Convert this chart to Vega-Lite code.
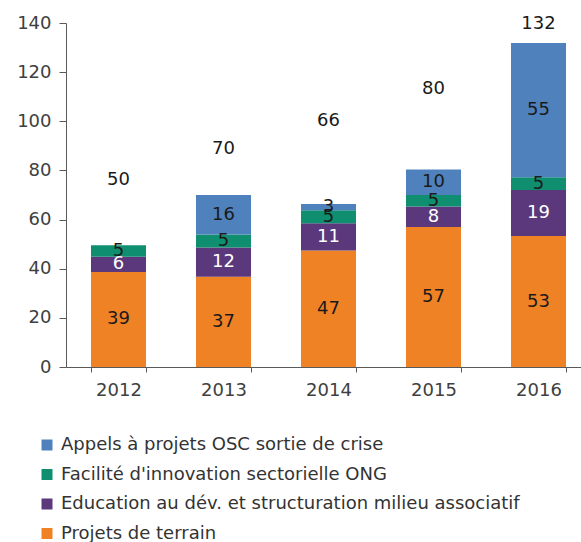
{
  "$schema": "https://vega.github.io/schema/vega-lite/v6.json",
  "autosize": "none",
  "width": 515,
  "height": 344,
  "padding": {"left": 66, "top": 23, "right": 0, "bottom": 175},
  "background": "white",
  "config": {"view": {"stroke": null}, "font": "DejaVu Sans"},
  "layer": [
    {
      "data": {
        "values": [
          {"year": "2012", "serie": "Projets de terrain", "value": 38.7},
          {"year": "2012", "serie": "Education au dév. et structuration milieu associatif", "value": 6.2},
          {"year": "2012", "serie": "Facilité d'innovation sectorielle ONG", "value": 4.7},
          {"year": "2013", "serie": "Projets de terrain", "value": 36.7},
          {"year": "2013", "serie": "Education au dév. et structuration milieu associatif", "value": 11.9},
          {"year": "2013", "serie": "Facilité d'innovation sectorielle ONG", "value": 5.3},
          {"year": "2013", "serie": "Appels à projets OSC sortie de crise", "value": 16.1},
          {"year": "2014", "serie": "Projets de terrain", "value": 47.4},
          {"year": "2014", "serie": "Education au dév. et structuration milieu associatif", "value": 11.1},
          {"year": "2014", "serie": "Facilité d'innovation sectorielle ONG", "value": 5.3},
          {"year": "2014", "serie": "Appels à projets OSC sortie de crise", "value": 2.5},
          {"year": "2015", "serie": "Projets de terrain", "value": 57.0},
          {"year": "2015", "serie": "Education au dév. et structuration milieu associatif", "value": 8.3},
          {"year": "2015", "serie": "Facilité d'innovation sectorielle ONG", "value": 4.7},
          {"year": "2015", "serie": "Appels à projets OSC sortie de crise", "value": 10.4},
          {"year": "2016", "serie": "Projets de terrain", "value": 53.3},
          {"year": "2016", "serie": "Education au dév. et structuration milieu associatif", "value": 18.7},
          {"year": "2016", "serie": "Facilité d'innovation sectorielle ONG", "value": 5.2},
          {"year": "2016", "serie": "Appels à projets OSC sortie de crise", "value": 54.7}
        ]
      },
      "transform": [
        {"calculate": "indexof([\"Projets de terrain\", \"Education au dév. et structuration milieu associatif\", \"Facilité d'innovation sectorielle ONG\", \"Appels à projets OSC sortie de crise\"], datum.serie)", "as": "rank"},
        {"stack": "value", "groupby": ["year"], "sort": [{"field": "rank", "order": "ascending"}], "as": ["v0", "v1"]},
        {"calculate": "(datum.v0 + datum.v1) / 2", "as": "mid"}
      ],
      "layer": [
        {
          "mark": {"type": "bar"},
          "encoding": {
            "x": {
              "field": "year", "type": "ordinal",
              "scale": {"range": [0, 525], "paddingInner": 0.476, "paddingOuter": 0.238},
              "axis": {"title": null, "labelAngle": 0, "labelFontSize": 18, "labelColor": "#404040", "domainColor": "#595959", "tickColor": "#595959", "tickSize": 5, "tickBand": "extent", "labelPadding": 9}
            },
            "y": {
              "field": "v0", "type": "quantitative",
              "scale": {"domain": [0, 140], "nice": false},
              "axis": {"title": null, "grid": false, "values": [0, 20, 40, 60, 80, 100, 120, 140], "labelFontSize": 18, "labelColor": "#404040", "domainColor": "#595959", "tickColor": "#595959", "tickSize": 7, "labelPadding": 8}
            },
            "y2": {"field": "v1"},
            "color": {
              "field": "serie", "type": "nominal",
              "scale": {
                "domain": ["Appels à projets OSC sortie de crise", "Facilité d'innovation sectorielle ONG", "Education au dév. et structuration milieu associatif", "Projets de terrain"],
                "range": ["#4F81BD", "#0F8F6F", "#5B387B", "#F08226"]
              },
              "legend": {
                "title": null, "orient": "none", "legendX": -28, "legendY": 413,
                "symbolType": "square", "symbolSize": 121, "symbolStrokeWidth": 0,
                "labelFontSize": 18, "labelColor": "#333333", "rowPadding": 11.5, "labelOffset": 5, "labelLimit": 600
              }
            }
          }
        },
        {
          "mark": {"type": "text", "fontSize": 18},
          "encoding": {
            "x": {"field": "year", "type": "ordinal"},
            "y": {"field": "mid", "type": "quantitative"},
            "text": {"field": "value", "type": "quantitative", "format": ".0f"},
            "color": {"condition": {"test": "datum.serie === 'Education au dév. et structuration milieu associatif'", "value": "white"}, "value": "#1a1a1a"}
          }
        }
      ]
    },
    {
      "data": {
        "values": [
          {"year": "2012", "total": 50, "labelY": 76},
          {"year": "2013", "total": 70, "labelY": 88.7},
          {"year": "2014", "total": 66, "labelY": 100},
          {"year": "2015", "total": 80, "labelY": 113.3},
          {"year": "2016", "total": 132, "labelY": 139.7}
        ]
      },
      "mark": {"type": "text", "fontSize": 18, "color": "#1a1a1a"},
      "encoding": {
        "x": {"field": "year", "type": "ordinal"},
        "y": {"field": "labelY", "type": "quantitative"},
        "text": {"field": "total", "type": "quantitative"}
      }
    }
  ]
}
